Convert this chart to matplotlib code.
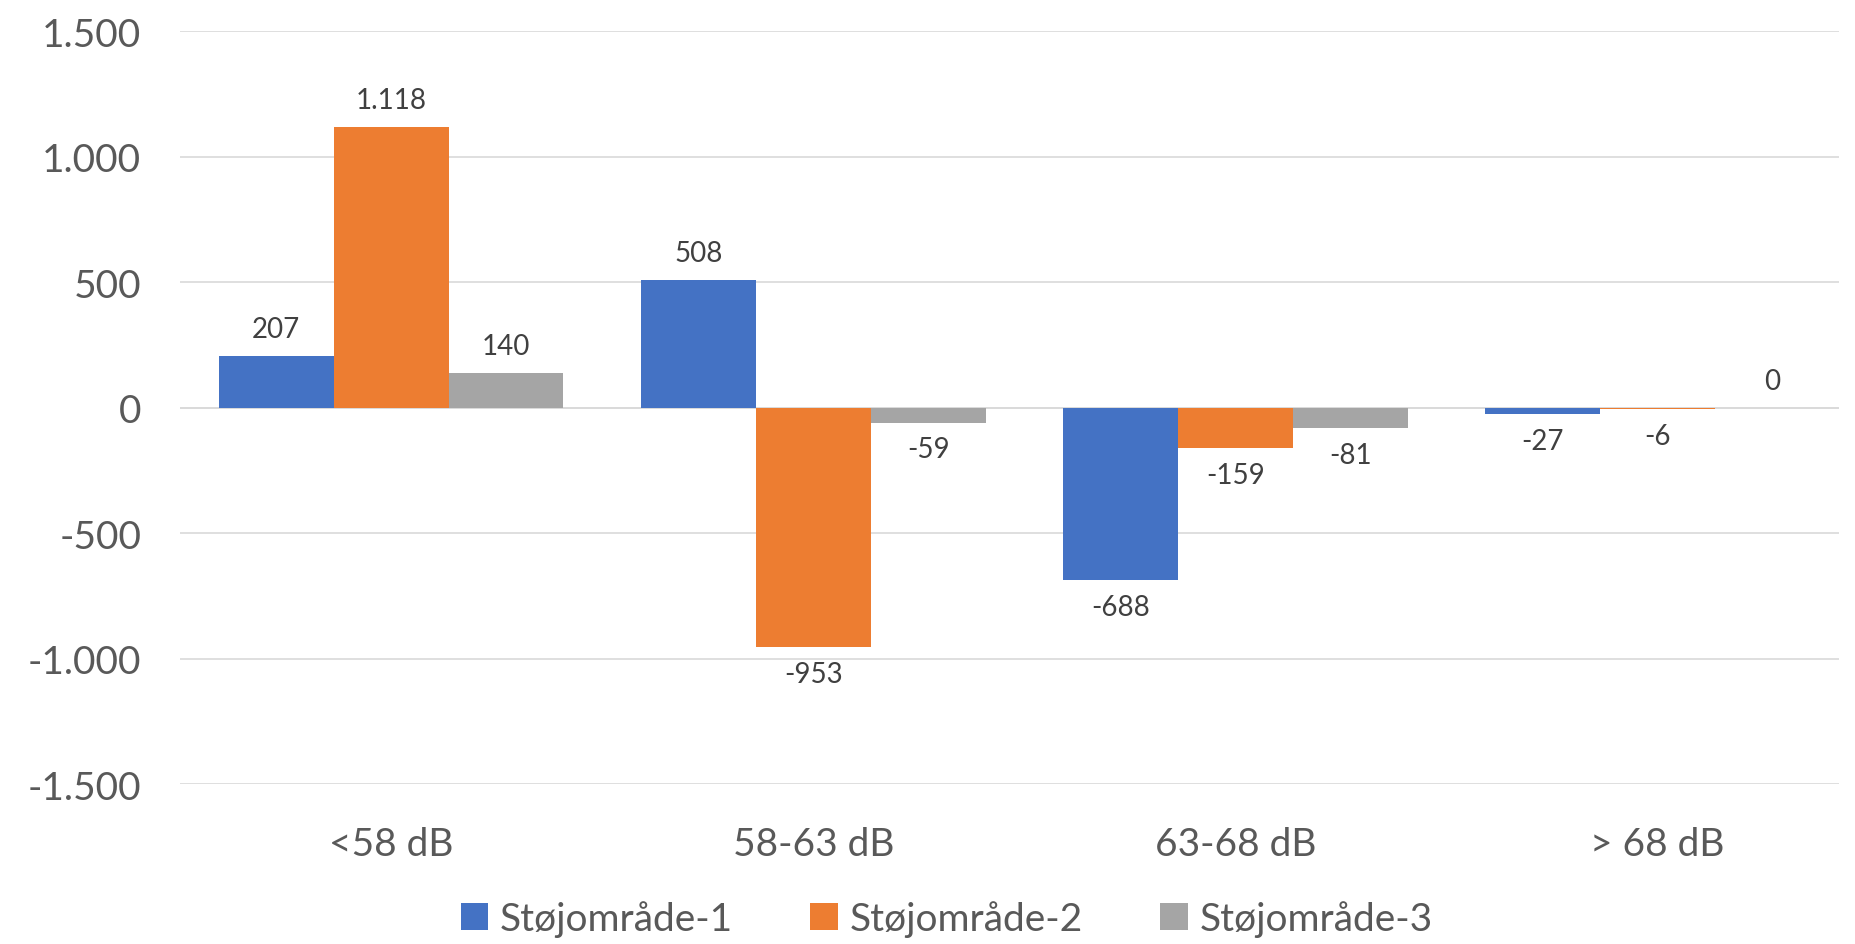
import numpy as np
import matplotlib.pyplot as plt
from matplotlib.ticker import FuncFormatter

categories = ['<58 dB', '58-63 dB', '63-68 dB', '> 68 dB']
series_names = ['Støjområde-1', 'Støjområde-2', 'Støjområde-3']
s1 = [207, 508, -688, -27]
s2 = [1118, -953, -159, -6]
s3 = [140, -59, -81, 0]
colors = ['#4472C4', '#ED7D31', '#A5A5A5']

plt.rcParams['font.family'] = ['Lato', 'DejaVu Sans']

fig = plt.figure(figsize=(18.56, 9.45), dpi=100)
ax = fig.add_axes([0.097, 0.169, 0.894, 0.797])

x = np.arange(len(categories))
w = 0.272
for i, (vals, name, c) in enumerate(zip([s1, s2, s3], series_names, colors)):
    xs = x + (i - 1) * w
    ax.bar(xs, vals, width=w, color=c, label=name, zorder=2)
    for xx, v in zip(xs, vals):
        lbl = f'{v:,}'.replace(',', '.')
        if v >= 0:
            ax.annotate(lbl, (xx, v), xytext=(0, 10), textcoords='offset points',
                        ha='center', va='bottom', fontsize=20, color='#404040')
        else:
            ax.annotate(lbl, (xx, v), xytext=(0, -10), textcoords='offset points',
                        ha='center', va='top', fontsize=20, color='#404040')

ax.set_xlim(-0.5, 3.43)
ax.set_ylim(-1500, 1500)
ax.set_yticks(np.arange(-1500, 1501, 500))
ax.yaxis.set_major_formatter(FuncFormatter(lambda v, p: f'{int(v):,}'.replace(',', '.')))
ax.set_xticks(x)
ax.set_xticklabels(categories)
ax.tick_params(axis='both', length=0, labelsize=28, labelcolor='#595959')
ax.tick_params(axis='x', pad=30)
ax.tick_params(axis='y', pad=28)
ax.grid(axis='y', color='#D9D9D9', linewidth=1.2, zorder=0)
ax.axhline(0, color='#D9D9D9', linewidth=1.2, zorder=1)
for s in ax.spines.values():
    s.set_visible(False)

fig.legend(loc='center', bbox_to_anchor=(0.51, 0.027), ncol=3, frameon=False,
           fontsize=28, handlelength=0.7, handleheight=0.7, handletextpad=0.3,
           columnspacing=2.0, labelcolor='#595959')

fig.savefig('out.png', dpi=100)
